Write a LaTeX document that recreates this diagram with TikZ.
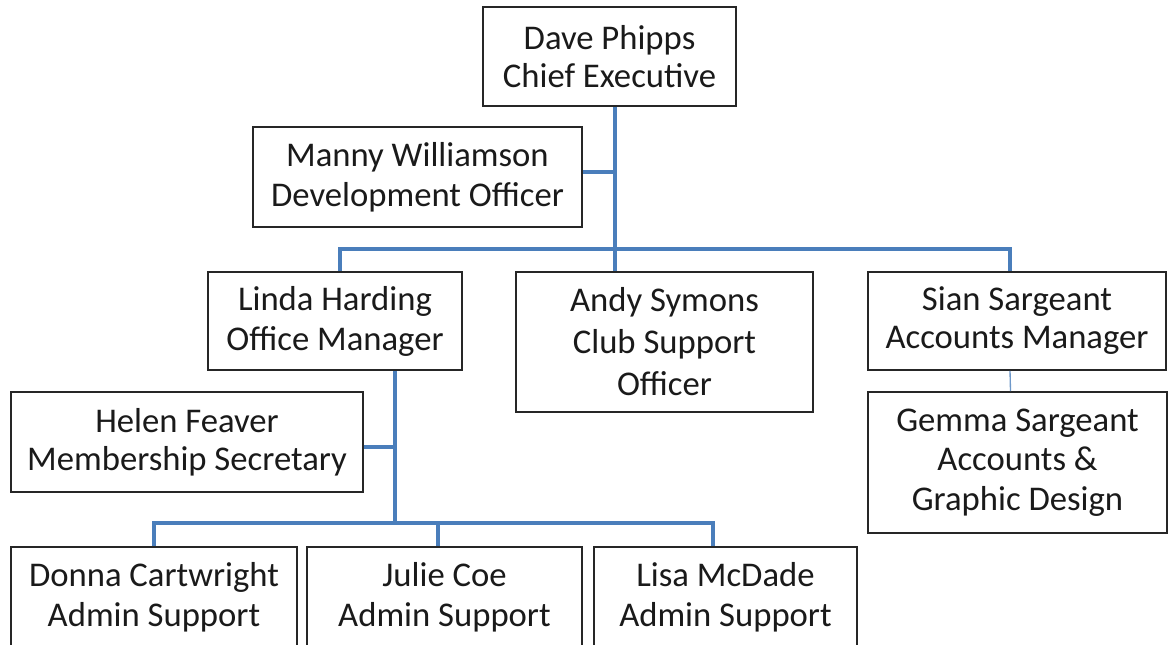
\documentclass[tikz,border=0pt]{standalone}
\usepackage{fontspec}
\setmainfont{Carlito}
\definecolor{connblue}{HTML}{4A7EBB}
\definecolor{boxline}{HTML}{262626}
\definecolor{txt}{HTML}{1A1A1A}
\begin{document}
\begin{tikzpicture}[x=0.75pt,y=-0.75pt,
  person/.style={draw=boxline,line width=1.2pt,fill=white,inner sep=0pt,align=center,
    text=txt,font=\fontsize{26}{28.5}\selectfont},
  conn/.style={draw=connblue,line width=2.4pt},
  thinconn/.style={draw=connblue!80,line width=1pt}]
\useasboundingbox (0,0) rectangle (1169,644);
\clip (0,0) rectangle (1169,644);
\fill[white] (0,0) rectangle (1169,644);

% nodes
\node[person,minimum width=189.75pt,minimum height=74.25pt,font=\fontsize{26}{28}\selectfont] (dave) at (609.5,56.5) {Dave Phipps\\Chief Executive};
\node[person,minimum width=246.75pt,minimum height=75pt,font=\fontsize{26}{30}\selectfont] (manny) at (417.5,177) {Manny Williamson\\Development Officer};
\node[person,minimum width=190.5pt,minimum height=73.5pt,font=\fontsize{26}{30}\selectfont] (linda) at (335,321) {Linda Harding\\Office Manager};
\node[person,minimum width=222.75pt,minimum height=105pt,font=\fontsize{26}{31.5}\selectfont] (andy) at (664.5,342) {Andy Symons\\Club Support\\Officer};
\node[person,minimum width=223.5pt,minimum height=73.5pt] (sian) at (1017,321) {Sian Sargeant\\Accounts Manager};
\node[person,minimum width=224.25pt,minimum height=105.75pt,font=\fontsize{26}{29.6}\selectfont] (gemma) at (1017.5,462.5) {Gemma Sargeant\\Accounts \&\\Graphic Design};
\node[person,minimum width=264pt,minimum height=75pt] (helen) at (187,442) {Helen Feaver\\Membership Secretary};
\node[person,minimum width=214.5pt,minimum height=75pt,font=\fontsize{26}{30}\selectfont] (donna) at (154,597) {Donna Cartwright\\Admin Support};
\node[person,minimum width=206.25pt,minimum height=75pt,font=\fontsize{26}{30}\selectfont] (julie) at (444.5,597) {Julie Coe\\Admin Support};
\node[person,minimum width=197.25pt,minimum height=75pt,font=\fontsize{26}{30}\selectfont] (lisa) at (725.5,597) {Lisa McDade\\Admin Support};

% junction points
\coordinate (j1) at (615,249);
\coordinate (j2) at (395,523);

% connectors
\draw[conn] (dave.south -| j1) -- (j1);
\draw[conn] ([yshift=3.75pt]manny.east) -- ([yshift=3.75pt]manny.east -| j1);
\draw[conn] ([xshift=3.75pt]linda.north) -- ([xshift=3.75pt]linda.north |- j1) -| ([xshift=-5.25pt]sian.north);
\draw[conn] (j1) -- (andy.north -| j1);
\draw[thinconn] ([xshift=-5.25pt]sian.south) -- ([xshift=-5.25pt]gemma.north);
\draw[conn] (linda.south -| j2) -- (j2);
\draw[conn] ([yshift=-3.75pt]helen.east) -- ([yshift=-3.75pt]helen.east -| j2);
\draw[conn] (donna.north) -- (donna.north |- j2) -| ([xshift=-9.4pt]lisa.north);
\draw[conn] ([xshift=-4.9pt]julie.north) -- ([xshift=-4.9pt]julie.north |- j2);
\end{tikzpicture}
\end{document}
